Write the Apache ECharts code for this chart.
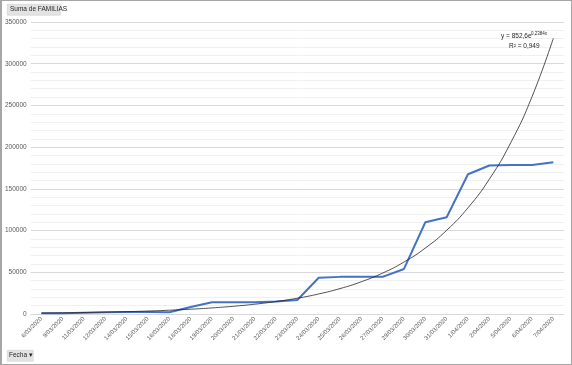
<!DOCTYPE html>
<html><head><meta charset="utf-8">
<script src="https://cdn.jsdelivr.net/npm/echarts@6/dist/echarts.min.js"></script>
<style>
html,body{margin:0;padding:0;background:#fff;}
#c{width:572px;height:365px;box-sizing:border-box;border:1px solid #a6a6a6;border-left:2px solid #a6a6a6;}
</style></head>
<body><div id="c"></div>
<script>
const categories = ['6/03/2020','9/03/2020','11/03/2020','12/03/2020','14/03/2020','15/03/2020','16/03/2020','18/03/2020','19/03/2020','20/03/2020','21/03/2020','22/03/2020','23/03/2020','24/03/2020','25/03/2020','26/03/2020','27/03/2020','29/03/2020','30/03/2020','31/03/2020','1/04/2020','2/04/2020','5/04/2020','6/04/2020','7/04/2020'];
const familias = [1000,1000,1500,2000,2500,2500,2200,8500,14000,14000,14000,15000,16800,43500,44500,44500,44500,54000,110000,116000,167500,178000,178500,178500,181800];
const trend = [1082,1374,1743,2213,2808,3564,4524,5742,7288,9250,11740,14900,18912,24003,30465,38666,49076,62287,79056,100340,127353,161639,205156,260388,330489];
const yTicks = [0,50000,100000,150000,200000,250000,300000,350000];

const chart = echarts.init(document.getElementById('c'), null, {renderer:'canvas'});
const font = 'Liberation Sans, Arial, sans-serif';
chart.setOption({
  animation:false,
  grid:{left:28,right:7,top:21,bottom:50},
  xAxis:{type:'category',data:categories,boundaryGap:true,
    axisLine:{show:true,lineStyle:{color:'#d9d9d9',width:1}},axisTick:{show:false},
    axisLabel:{interval:0,rotate:45,fontSize:6,color:'#595959',fontFamily:font,margin:4}},
  yAxis:{type:'value',min:yTicks[0],max:yTicks[yTicks.length-1],interval:50000,
    axisLine:{show:false},axisTick:{show:false},
    axisLabel:{fontSize:6.5,color:'#595959',fontFamily:font,margin:4,formatter:function(v){return String(v);}},
    splitLine:{lineStyle:{color:'#d9d9d9',width:1}},
    minorTick:{show:false,splitNumber:5},
    minorSplitLine:{show:true,lineStyle:{color:'#f0f0f0',width:1}}},
  series:[
    {type:'line',data:familias,symbol:'none',lineStyle:{color:'#4472c4',width:2},z:3},
    {type:'line',data:trend,symbol:'none',smooth:true,lineStyle:{color:'#262626',width:0.8},z:4}
  ],
  graphic:[
    {type:'rect',left:5,top:3,shape:{width:53,height:11},style:{fill:'#e3e3e3',stroke:'#c8c8c8',lineWidth:0.5}},
    {type:'text',left:8,top:5,style:{text:'Suma de FAMILIAS',fontSize:6.5,fill:'#262626',fontFamily:font}},
    {type:'rect',left:5,top:349,shape:{width:26,height:11},style:{fill:'#e3e3e3',stroke:'#c8c8c8',lineWidth:0.5}},
    {type:'text',left:7,top:351,style:{text:'Fecha ▾',fontSize:6.5,fill:'#262626',fontFamily:font}},
    {type:'text',left:499,top:32,z:10,style:{text:'y = 852,6e',fontSize:6.5,fill:'#262626',fontFamily:font}},
    {type:'text',left:529,top:30,z:10,style:{text:'0,2384x',fontSize:4.5,fill:'#262626',fontFamily:font}},
    {type:'text',left:507,top:42,z:10,style:{text:'R² = 0,949',fontSize:6.5,fill:'#262626',fontFamily:font}}
  ]
});
</script></body></html>
